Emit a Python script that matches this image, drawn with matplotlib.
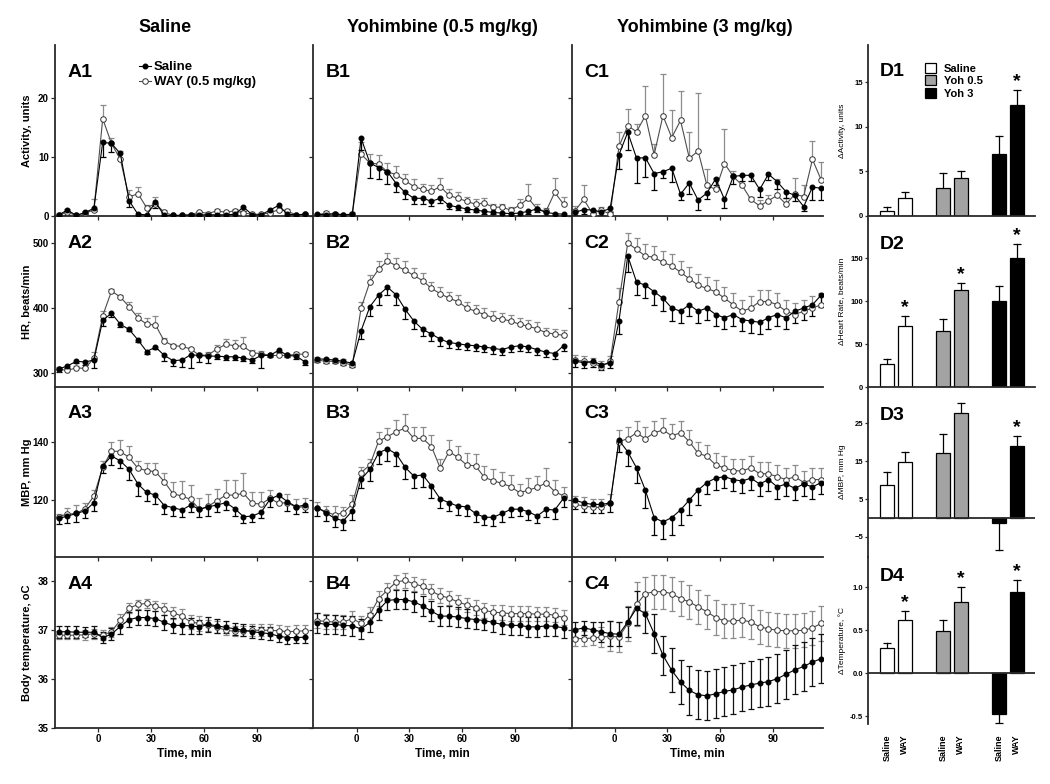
import matplotlib
matplotlib.use('Agg')
import matplotlib.pyplot as plt
import numpy as np
from matplotlib.patches import Patch
from matplotlib.lines import Line2D

plt.rcParams['font.family'] = ['Liberation Sans', 'DejaVu Sans']
plt.rcParams['font.weight'] = 'bold'

# ---------------- data ----------------
time_min = [-22.5, -17.5, -12.5, -7.5, -2.5, 2.5, 7.5, 12.5, 17.5, 22.5, 27.5, 32.5, 37.5, 42.5,
            47.5, 52.5, 57.5, 62.5, 67.5, 72.5, 77.5, 82.5, 87.5, 92.5, 97.5, 102.5, 107.5, 112.5, 117.5]

column_titles = ['Saline', 'Yohimbine (0.5 mg/kg)', 'Yohimbine (3 mg/kg)']
row_ylabels = ['Activity, units', 'HR, beats/min', 'MBP, mm Hg', 'Body temperature, oC']
series_names = ['Saline', 'WAY (0.5 mg/kg)']

# Activity
a1_saline = [0.2, 1.0, 0.1, 0.6, 1.3, 12.5, 12.3, 10.6, 2.6, 0.3, 0.2, 2.3, 0.1, 0.1, 0.1, 0.2, 0.2, 0.2, 0.2, 0.2, 0.3, 1.5, 0.2, 0.2, 1.0, 1.8, 0.3, 0.2, 0.3]
a1_way = [0.2, 0.6, 0.1, 0.5, 1.0, 16.5, 12.3, 9.6, 3.2, 3.8, 1.4, 2.1, 0.6, 0.1, 0.1, 0.2, 0.7, 0.4, 0.9, 0.6, 0.9, 0.5, 0.3, 0.3, 0.5, 1.1, 0.8, 0.2, 0.3]
a1_saline_err = [0.3, 0.8, 0.2, 0.3, 0.5, 2.5, 1.5, 1.0, 1.0, 0.3, 0.2, 1.0, 0.2, 0.1, 0.1, 0.1, 0.1, 0.1, 0.2, 0.1, 0.2, 0.6, 0.2, 0.2, 0.5, 0.8, 0.3, 0.2, 0.2]
a1_way_err = [0.3, 0.6, 0.2, 0.3, 1.8, 2.4, 1.0, 1.5, 1.2, 1.2, 0.5, 1.2, 0.4, 0.1, 0.1, 0.1, 0.2, 0.2, 0.3, 0.3, 0.3, 0.4, 0.2, 0.2, 0.3, 0.5, 0.4, 0.2, 0.2]

b1_saline = [0.3, 0.2, 0.4, 0.2, 0.3, 13.2, 9.0, 8.2, 7.5, 5.5, 4.0, 3.0, 3.0, 2.5, 3.0, 1.8, 1.5, 1.2, 1.0, 0.8, 0.6, 0.5, 0.4, 0.5, 0.8, 1.2, 0.6, 0.4, 0.3]
b1_way = [0.2, 0.5, 0.3, 0.2, 0.3, 10.5, 9.0, 8.8, 7.5, 7.0, 6.0, 5.0, 4.5, 4.2, 5.0, 3.5, 3.0, 2.5, 2.0, 2.2, 1.5, 1.5, 1.0, 1.8, 3.0, 1.2, 0.8, 4.0, 2.0]
b1_saline_err = [0.3, 0.2, 0.3, 0.2, 0.3, 2.0, 2.5, 2.0, 2.0, 1.5, 1.2, 1.0, 1.0, 0.8, 0.8, 0.6, 0.5, 0.5, 0.4, 0.4, 0.3, 0.3, 0.3, 0.3, 0.4, 0.5, 0.4, 0.3, 0.3]
b1_way_err = [0.2, 0.4, 0.3, 0.2, 0.3, 2.0, 1.5, 1.5, 1.5, 1.5, 1.2, 1.2, 1.0, 1.0, 1.5, 1.0, 1.0, 0.8, 0.8, 0.8, 0.6, 0.6, 0.5, 1.0, 2.5, 0.8, 0.6, 2.5, 1.2]

c1_saline = [0.6, 1.1, 1.0, 0.7, 1.3, 10.4, 14.2, 9.8, 9.9, 7.2, 7.5, 8.1, 3.7, 5.6, 2.7, 3.9, 6.3, 2.8, 6.7, 6.9, 6.9, 4.5, 7.1, 5.8, 4.1, 3.5, 1.6, 4.9, 4.7]
c1_way = [0.9, 2.8, 0.4, 1.0, 0.3, 11.8, 15.3, 14.3, 17.0, 10.4, 17.0, 13.3, 16.2, 9.8, 11.0, 5.2, 4.5, 8.9, 6.7, 5.2, 2.8, 1.7, 2.6, 3.5, 2.0, 3.7, 3.3, 9.6, 6.1]
c1_saline_err = [0.5, 0.8, 0.5, 0.5, 0.6, 2.5, 3.0, 4.2, 3.3, 2.8, 1.0, 2.4, 1.0, 1.8, 1.6, 1.0, 1.0, 1.5, 1.2, 1.0, 1.0, 1.2, 1.0, 1.2, 1.0, 1.0, 0.8, 2.2, 2.0]
c1_way_err = [0.8, 2.4, 0.5, 0.6, 0.5, 2.4, 2.8, 1.3, 5.0, 1.8, 7.0, 4.6, 5.0, 4.5, 9.8, 2.8, 2.0, 5.8, 1.0, 1.5, 0.5, 1.0, 1.0, 2.8, 1.0, 2.8, 2.0, 3.2, 3.0]

# Heart rate
a2_saline = [306, 311, 318, 317, 320, 381, 392, 375, 367, 351, 333, 340, 327, 319, 320, 328, 327, 326, 326, 325, 325, 323, 320, 327, 327, 335, 327, 326, 317]
a2_way = [306, 304, 308, 307, 323, 388, 426, 417, 402, 385, 375, 374, 349, 342, 341, 337, 327, 328, 337, 344, 342, 341, 331, 330, 327, 327, 327, 329, 329]
a2_saline_err = [5, 4, 3, 4, 13, 8, 6, 4, 3, 3, 4, 3, 8, 8, 10, 20, 10, 10, 5, 5, 5, 5, 5, 20, 3, 3, 3, 4, 4]
a2_way_err = [4, 3, 3, 3, 10, 8, 3, 3, 7, 8, 10, 13, 5, 3, 2, 2, 4, 5, 6, 9, 9, 15, 4, 4, 3, 4, 3, 3, 3]

b2_saline = [322, 321, 320, 318, 315, 365, 402, 420, 432, 420, 398, 380, 367, 360, 352, 347, 345, 343, 342, 340, 338, 336, 340, 342, 340, 336, 332, 330, 342]
b2_way = [320, 318, 318, 316, 312, 400, 440, 460, 472, 465, 458, 450, 442, 430, 422, 415, 410, 400, 395, 390, 385, 383, 380, 375, 372, 368, 362, 360, 358]
b2_saline_err = [5, 5, 5, 5, 6, 12, 15, 15, 12, 15, 15, 12, 10, 10, 10, 8, 8, 8, 8, 8, 8, 8, 8, 8, 8, 8, 8, 8, 8]
b2_way_err = [5, 5, 5, 5, 5, 10, 10, 12, 12, 12, 15, 12, 12, 10, 10, 10, 10, 10, 10, 10, 10, 10, 10, 10, 10, 10, 8, 8, 8]

c2_saline = [318, 316, 318, 313, 315, 380, 480, 440, 435, 425, 415, 400, 395, 405, 395, 400, 390, 385, 390, 382, 380, 378, 385, 390, 385, 395, 400, 405, 420]
c2_way = [320, 318, 315, 310, 318, 410, 500, 490, 480, 478, 470, 465, 455, 445, 435, 430, 425, 415, 405, 395, 400, 410, 410, 405, 395, 390, 395, 400, 405]
c2_saline_err = [8, 8, 8, 8, 8, 20, 25, 20, 20, 20, 20, 20, 18, 18, 18, 18, 18, 18, 18, 18, 18, 18, 18, 18, 18, 18, 18, 18, 18]
c2_way_err = [8, 8, 8, 8, 8, 20, 15, 18, 18, 18, 18, 18, 18, 18, 18, 18, 18, 18, 18, 18, 18, 18, 18, 18, 18, 18, 18, 18, 18]

# Mean blood pressure
a3_saline = [113.7, 114.5, 115.4, 116.3, 119.1, 131.7, 135.1, 133.4, 130.5, 125.5, 122.6, 121.7, 118.1, 117.4, 116.6, 118.3, 116.8, 117.7, 118.3, 119.1, 117.1, 114.3, 114.5, 115.8, 120.2, 121.7, 119.4, 117.7, 118.3]
a3_way = [114.3, 115.2, 115.4, 117.1, 121.4, 131.2, 136.8, 136.6, 134.6, 130.9, 130.1, 129.7, 126.3, 122.1, 121.4, 120.2, 116.8, 117.9, 119.8, 121.7, 121.7, 122.3, 118.9, 118.6, 120.6, 118.9, 119.1, 117.5, 117.7]
a3_saline_err = [2, 2.5, 3, 2.5, 3, 2.5, 3, 2.5, 3.5, 4, 3, 3, 3, 3, 2.5, 2.5, 2.5, 3, 2.5, 2.5, 2.5, 2, 2, 2, 2.5, 2.5, 3, 2.5, 2.5]
a3_way_err = [1, 2, 3, 2, 2, 2, 3, 4, 4, 2.5, 2.5, 3, 3, 4, 5, 5, 4, 4, 4, 5, 5, 7, 4, 4, 3, 2, 3, 3, 3]

b3_saline = [117.4, 115.7, 113.7, 112.9, 116.3, 127.1, 130.5, 136.2, 137.5, 135.8, 131.2, 128.2, 128.6, 124.8, 120.3, 119.1, 117.9, 117.7, 115.4, 114.1, 114.1, 115.4, 116.8, 116.9, 116.0, 114.5, 116.8, 116.6, 120.6]
b3_way = [117.4, 116.0, 114.9, 115.7, 118.6, 129.4, 132.0, 140.2, 141.7, 143.4, 144.6, 141.1, 141.1, 138.3, 130.9, 136.6, 134.6, 132.0, 131.7, 127.8, 126.6, 125.7, 124.6, 122.5, 123.4, 124.3, 125.9, 122.9, 121.4]
b3_saline_err = [3, 3, 3, 3, 3, 3, 4, 4, 4, 4, 4, 4, 4, 4, 3, 3, 3, 3, 3, 2.5, 3, 3, 2.5, 2.5, 3, 2.5, 2.5, 3, 3]
b3_way_err = [2, 2, 3, 2, 3, 2, 2, 3, 3, 4, 5, 4, 4, 4, 3, 4, 4, 4, 4, 4, 4, 4, 4, 3, 4, 4, 5, 4, 3]

c3_saline = [120, 119, 118.5, 118.5, 119, 140.5, 136.5, 131, 123.4, 114, 112.5, 114, 116.6, 120, 123.4, 126, 127.5, 128, 127, 126.5, 127.5, 125.5, 127, 124.5, 125.5, 124, 125.5, 124.5, 126]
c3_way = [118.5, 118, 117.5, 117.5, 119, 140, 141, 143, 141, 143, 144, 142, 143, 140, 136, 135, 132, 131, 130, 130, 131, 129, 129, 128, 127, 128, 126, 127, 127]
c3_saline_err = [3, 3, 3, 3, 3, 4, 5, 5, 6, 6, 6, 6, 5, 5, 5, 4, 4, 4, 4, 4, 4, 4, 4, 4, 4, 4, 4, 4, 4]
c3_way_err = [3, 3, 3, 3, 3, 4, 4, 4, 4, 4, 4, 4, 4, 4, 4, 4, 4, 4, 4, 4, 4, 4, 4, 4, 4, 4, 4, 4, 4]

# Body temperature
a4_saline = [36.97, 36.97, 36.96, 36.96, 36.96, 36.85, 36.92, 37.08, 37.22, 37.26, 37.26, 37.24, 37.16, 37.10, 37.10, 37.09, 37.07, 37.12, 37.09, 37.06, 37.03, 37.00, 36.97, 36.95, 36.93, 36.88, 36.85, 36.85, 36.86]
a4_way = [36.90, 36.90, 36.90, 36.91, 36.93, 36.90, 36.97, 37.21, 37.45, 37.53, 37.55, 37.50, 37.43, 37.36, 37.29, 37.17, 37.14, 37.10, 37.06, 37.00, 36.98, 36.98, 37.00, 37.00, 37.00, 36.99, 36.97, 36.98, 36.99]
a4_saline_err = [0.12, 0.12, 0.12, 0.10, 0.12, 0.12, 0.12, 0.15, 0.15, 0.15, 0.15, 0.15, 0.15, 0.15, 0.18, 0.17, 0.15, 0.15, 0.15, 0.12, 0.12, 0.12, 0.12, 0.12, 0.13, 0.13, 0.13, 0.12, 0.12]
a4_way_err = [0.08, 0.08, 0.08, 0.10, 0.10, 0.10, 0.10, 0.12, 0.10, 0.10, 0.10, 0.10, 0.12, 0.12, 0.15, 0.15, 0.15, 0.12, 0.12, 0.10, 0.10, 0.10, 0.12, 0.12, 0.12, 0.12, 0.12, 0.12, 0.12]

b4_saline = [37.15, 37.12, 37.12, 37.10, 37.09, 37.03, 37.16, 37.42, 37.61, 37.63, 37.63, 37.58, 37.50, 37.39, 37.29, 37.29, 37.27, 37.24, 37.22, 37.20, 37.16, 37.12, 37.10, 37.10, 37.07, 37.07, 37.09, 37.08, 37.05]
b4_way = [37.20, 37.18, 37.17, 37.17, 37.24, 37.14, 37.32, 37.65, 37.82, 37.99, 38.02, 37.95, 37.90, 37.80, 37.71, 37.66, 37.58, 37.52, 37.46, 37.41, 37.37, 37.36, 37.34, 37.34, 37.34, 37.33, 37.33, 37.31, 37.26]
b4_saline_err = [0.20, 0.20, 0.20, 0.20, 0.20, 0.20, 0.20, 0.20, 0.20, 0.20, 0.20, 0.20, 0.20, 0.20, 0.20, 0.20, 0.20, 0.20, 0.20, 0.20, 0.20, 0.20, 0.20, 0.20, 0.20, 0.20, 0.20, 0.20, 0.20]
b4_way_err = [0.15, 0.15, 0.15, 0.15, 0.15, 0.15, 0.15, 0.15, 0.15, 0.15, 0.15, 0.15, 0.15, 0.15, 0.15, 0.15, 0.15, 0.15, 0.15, 0.15, 0.15, 0.15, 0.15, 0.15, 0.15, 0.15, 0.15, 0.15, 0.15]

c4_saline = [37.01, 37.05, 37.01, 36.97, 36.93, 36.92, 37.17, 37.45, 37.34, 36.93, 36.49, 36.18, 35.94, 35.77, 35.68, 35.66, 35.70, 35.75, 35.78, 35.84, 35.88, 35.92, 35.95, 36.01, 36.10, 36.19, 36.26, 36.35, 36.42]
c4_way = [36.83, 36.83, 36.84, 36.86, 36.88, 36.86, 37.14, 37.53, 37.75, 37.79, 37.79, 37.75, 37.65, 37.58, 37.48, 37.38, 37.26, 37.19, 37.19, 37.21, 37.17, 37.07, 37.03, 37.00, 36.99, 36.99, 37.00, 37.05, 37.14]
c4_saline_err = [0.15, 0.15, 0.15, 0.2, 0.25, 0.25, 0.3, 0.35, 0.4, 0.4, 0.4, 0.45, 0.45, 0.5, 0.5, 0.5, 0.5, 0.5, 0.5, 0.5, 0.5, 0.5, 0.5, 0.5, 0.5, 0.5, 0.5, 0.5, 0.5]
c4_way_err = [0.15, 0.15, 0.15, 0.2, 0.3, 0.3, 0.35, 0.45, 0.35, 0.35, 0.35, 0.35, 0.35, 0.35, 0.35, 0.35, 0.35, 0.35, 0.35, 0.35, 0.35, 0.35, 0.35, 0.35, 0.35, 0.35, 0.35, 0.35, 0.35]

# Bar panels D
d_groups = ['Saline', 'Yoh 0.5', 'Yoh 3']
d_treatments = ['Saline', 'WAY']
d1_means = [0.55, 2.0, 3.15, 4.2, 6.9, 12.4]
d1_errs = [0.5, 0.7, 1.7, 0.8, 2.1, 1.7]
d1_stars = [False, False, False, False, False, True]
d2_means = [27.3, 70.9, 65.4, 113.0, 100.5, 150.7]
d2_errs = [5.8, 11.7, 13.6, 7.8, 17.5, 15.7]
d2_stars = [False, True, False, True, False, True]
d3_means = [8.6, 14.7, 17.2, 27.7, -1.4, 19.0]
d3_errs = [3.6, 2.8, 4.9, 2.8, 7.1, 2.7]
d3_stars = [False, False, False, False, False, True]
d4_means = [0.29, 0.616, 0.49, 0.826, -0.473, 0.94]
d4_errs = [0.066, 0.104, 0.13, 0.18, 0.107, 0.145]
d4_stars = [False, True, False, True, False, True]
d_ylabels = ['\u0394Activity, units', '\u0394Heart Rate, beats/min', '\u0394MBP, mm Hg', '\u0394Temperature, \u00b0C']

# ---------------- layout ----------------
W, H = 1050, 784
fig = plt.figure(figsize=(W / 100, H / 100), dpi=100)

def fx(px):
    return px / W

def fy(py):
    return 1 - py / H

col_px = [(55, 313), (313, 572), (572, 823)]
col_xlim = [(-24.6, 122.0), (-24.8, 122.3), (-24.2, 118.5)]
row_px = [(45, 216), (216, 387), (387, 557), (557, 728)]
row_ylim = [(0, 29), (278.5, 541.5), (100.5, 158.7), (35, 38.5)]
row_yticks = [[0, 10, 20], [300, 400, 500], [120, 140], [35, 36, 37, 38]]
row_onesided = [True, True, True, False]

panel_data = [
    [(a1_saline, a1_saline_err, a1_way, a1_way_err), (b1_saline, b1_saline_err, b1_way, b1_way_err), (c1_saline, c1_saline_err, c1_way, c1_way_err)],
    [(a2_saline, a2_saline_err, a2_way, a2_way_err), (b2_saline, b2_saline_err, b2_way, b2_way_err), (c2_saline, c2_saline_err, c2_way, c2_way_err)],
    [(a3_saline, a3_saline_err, a3_way, a3_way_err), (b3_saline, b3_saline_err, b3_way, b3_way_err), (c3_saline, c3_saline_err, c3_way, c3_way_err)],
    [(a4_saline, a4_saline_err, a4_way, a4_way_err), (b4_saline, b4_saline_err, b4_way, b4_way_err), (c4_saline, c4_saline_err, c4_way, c4_way_err)],
]
letters = ['A', 'B', 'C']
spine_c = '#2a2a2a'
way_err_c = '#8c8c8c'


def draw_err(ax, t, y, e, direction, color, z):
    t = np.asarray(t, float); y = np.asarray(y, float); e = np.asarray(e, float)
    if direction == 'up':
        lo, hi = y, y + e
    elif direction == 'down':
        lo, hi = y - e, y
    else:
        lo, hi = y - e, y + e
    ax.vlines(t, lo, hi, colors=color, lw=0.9, zorder=z)
    if direction in ('up', 'both'):
        ax.plot(t, hi, ls='none', marker='_', ms=5, mew=0.9, color=color, zorder=z)
    if direction in ('down', 'both'):
        ax.plot(t, lo, ls='none', marker='_', ms=5, mew=0.9, color=color, zorder=z)


for r in range(4):
    for c in range(3):
        x0, x1 = col_px[c]
        y0, y1 = row_px[r]
        ax = fig.add_axes([fx(x0), fy(y1), fx(x1 - x0), (y1 - y0) / H])
        sal, sal_e, way, way_e = panel_data[r][c]
        if row_onesided[r]:
            draw_err(ax, time_min, way, way_e, 'up', way_err_c, 2)
            draw_err(ax, time_min, sal, sal_e, 'down', 'black', 2.5)
        else:
            draw_err(ax, time_min, way, way_e, 'both', way_err_c, 2)
            draw_err(ax, time_min, sal, sal_e, 'both', '#111111', 2.5)
        ax.plot(time_min, way, '-', color='#4d4d4d', lw=0.8, marker='o', ms=4.0,
                mfc='white', mec='#333333', mew=0.7, zorder=3, label=series_names[1])
        ax.plot(time_min, sal, '-', color='black', lw=0.8, marker='o', ms=3.3,
                mfc='black', mec='black', zorder=4, label=series_names[0])
        ax.set_xlim(*col_xlim[c])
        ax.set_ylim(*row_ylim[r])
        ax.set_xticks([0, 30, 60, 90])
        ax.set_yticks(row_yticks[r])
        for s in ['top', 'right']:
            ax.spines[s].set_visible(False)
        for s in ['left', 'bottom']:
            ax.spines[s].set_linewidth(1.3)
            ax.spines[s].set_color(spine_c)
        ax.tick_params(direction='out', length=3, width=0.9, color=spine_c, labelsize=7, pad=1.5)
        if c > 0:
            ax.set_yticklabels([])
        if r < 3:
            ax.set_xticklabels([])
        else:
            ax.set_xlabel('Time, min', fontsize=8.5, fontweight='bold', labelpad=3)
        ax.patch.set_alpha(0)
        ax.text(0.05, 0.842, f'{letters[c]}{r + 1}', transform=ax.transAxes, fontsize=14,
                fontweight='bold', ha='left', va='center')
        if c == 0:
            fig.text(fx(27), fy((y0 + y1) / 2), row_ylabels[r], rotation=90, ha='center',
                     va='center', fontsize=8, fontweight='bold')
        if r == 0 and c == 0:
            handles = [Line2D([], [], color='black', lw=0.8, marker='o', ms=3.3, mfc='black'),
                       Line2D([], [], color='#4d4d4d', lw=0.8, marker='o', ms=4.0, mfc='white', mec='#333333', mew=0.7)]
            ax.legend(handles, series_names, loc='upper left', bbox_to_anchor=(0.325, 0.905),
                      frameon=False, handlelength=0.9, handletextpad=0.25,
                      labelspacing=0.2, borderpad=0, borderaxespad=0,
                      prop={'weight': 'bold', 'size': 9.5})

col_title_x = [165, 442, 705]
for c in range(3):
    fig.text(fx(col_title_x[c]), fy(27), column_titles[c], ha='center', va='center',
             fontsize=13, fontweight='bold')

# ---------------- bar panels ----------------
d_means = [d1_means, d2_means, d3_means, d4_means]
d_errs = [d1_errs, d2_errs, d3_errs, d4_errs]
d_stars = [d1_stars, d2_stars, d3_stars, d4_stars]
d_px = [(45, 216), (216, 387), (387, 557), (557, 724)]
d_ylim = [(0, 19.15), (0, 199.4), (-10.3, 34.6), (-0.59, 1.35)]
d_yticks = [[0, 5, 10, 15], [0, 50, 100, 150], [-5, 5, 15, 25], [-0.5, 0.0, 0.5, 1.0]]
d_colors = ['white', '#a3a3a3', 'black']
bar_pos = []
bar_col = []
for g in range(3):
    for k in range(2):
        bar_pos.append(g * 3.18 + k)
        bar_col.append(d_colors[g])

for r in range(4):
    y0, y1 = d_px[r]
    ax = fig.add_axes([fx(868), fy(y1), fx(1035 - 868), (y1 - y0) / H])
    m = np.asarray(d_means[r]); e = np.asarray(d_errs[r])
    ax.bar(bar_pos, m, width=0.8, color=bar_col, edgecolor='black', linewidth=0.9, zorder=2)
    for x, v, er, st in zip(bar_pos, m, e, d_stars[r]):
        end = v + er if v >= 0 else v - er
        ax.plot([x, x], [v, end], color='black', lw=0.9, zorder=1.5)
        ax.plot([x], [end], marker='_', ms=6, mew=0.9, color='black', zorder=1.5)
        if st:
            ax.annotate('*', (x, end), xytext=(0, 0), textcoords='offset points', ha='center',
                        va='bottom', fontsize=14, fontweight='bold')
    ax.set_xlim(-1.1, 8.4)
    ax.set_ylim(*d_ylim[r])
    ax.set_yticks(d_yticks[r])
    if r == 3:
        ax.set_yticklabels(['-0.5', '0.0', '0.5', '1.0'])
    for s in ['top', 'right']:
        ax.spines[s].set_visible(False)
    ax.spines['left'].set_linewidth(1.3)
    ax.spines['left'].set_color(spine_c)
    if r < 2:
        ax.spines['bottom'].set_linewidth(1.3)
        ax.spines['bottom'].set_color(spine_c)
    else:
        ax.spines['bottom'].set_visible(False)
        ax.axhline(0, color=spine_c, lw=1.3, zorder=3)
    ax.tick_params(axis='y', direction='out', length=2.5, width=0.9, color=spine_c, labelsize=5.5, pad=1)
    if r == 3:
        ax.set_xticks(bar_pos)
        ax.set_xticklabels(d_treatments * 3, rotation=90, fontsize=6.5, fontweight='bold')
        ax.tick_params(axis='x', length=0, pad=7.5)
    else:
        ax.set_xticks([])
    ax.patch.set_alpha(0)
    lab_y = [0.844, 0.836, 0.83, 0.882][r]
    ax.text(0.072, lab_y, f'D{r + 1}', transform=ax.transAxes, fontsize=14,
            fontweight='bold', ha='left', va='center')
    fig.text(fx(842), fy((y0 + y1) / 2), d_ylabels[r], rotation=90, ha='center', va='center',
             fontsize=6, fontweight='normal')
    if r == 0:
        handles = [Patch(facecolor=col, edgecolor='black', linewidth=0.9) for col in d_colors]
        ax.legend(handles, d_groups, loc='upper left', bbox_to_anchor=(0.34, 0.895), frameon=False,
                  handlelength=1.0, handleheight=1.0, handletextpad=0.7, labelspacing=0.15,
                  borderpad=0, borderaxespad=0, prop={'weight': 'bold', 'size': 8})

fig.savefig('out.png', dpi=100, facecolor='white')
